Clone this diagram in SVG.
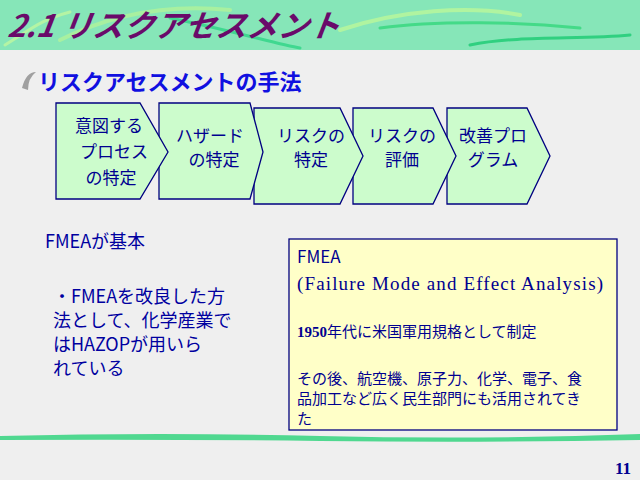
<svg xmlns="http://www.w3.org/2000/svg" width="640" height="480" viewBox="0 0 640 480">
<style>
.j{font-family:"Noto Sans CJK JP","Liberation Sans",sans-serif}
.s{fill:#ccfccc;stroke:#000080;stroke-width:1.3}
.t{font-size:17px;fill:#000090;text-anchor:middle}
.b{font-size:18px;fill:#0000a0}
.y{font-size:15px;fill:#000090}
</style>
<rect width="640" height="480" fill="#efefef"/>
<rect width="640" height="50" fill="#86e6b8"/>
<g fill="none" stroke-linecap="round">
<path d="M60,40 C120,10 180,5 230,10" stroke="#a8f0a0" stroke-width="4"/>
<path d="M170,18 C230,30 280,45 300,48" stroke="#40d890" stroke-width="3"/>
<path d="M340,30 C400,10 470,5 520,15" stroke="#b0f4a0" stroke-width="4"/>
<path d="M380,28 C440,20 520,22 580,28" stroke="#44da88" stroke-width="3"/>
<path d="M470,45 C520,35 580,40 630,35" stroke="#30d080" stroke-width="3"/>
<path d="M5,45 C30,30 40,20 70,12" stroke="#b4f4a4" stroke-width="3"/>
</g>
<path d="M0,436 Q160,432 320,436 T640,434 L640,440 Q480,443 320,441 T0,440 Z" fill="#50d890"/>
<text x="8" y="37" class="j" font-size="31" font-weight="bold" font-style="italic" fill="#6a0a6a" transform="skewX(-8) translate(4,0)">2.1  リスクアセスメント</text>
<path d="M22,88 Q26,72 36,72 Q28,78 28,90 Z" fill="#a0a0a0"/>
<text x="38" y="90" class="j" font-size="22" font-weight="bold" fill="#1010e0">リスクアセスメントの手法</text>
<g id="n5"><path class="s" d="M447,108 H527 L550,156 L527,204 H447 Z"/><text class="j t" x="493" y="142">改善プロ</text><text class="j t" x="493" y="166">グラム</text></g>
<g id="n4"><path class="s" d="M353,108 H433 L456,156 L433,204 H353 Z"/><text class="j t" x="402" y="142">リスクの</text><text class="j t" x="402" y="166">評価</text></g>
<g id="n3"><path class="s" d="M254,108 H340 L363,156 L340,204 H254 Z"/><text class="j t" x="311" y="142">リスクの</text><text class="j t" x="311" y="166">特定</text></g>
<g id="n2"><path class="s" d="M159,103 H250 L263,152 L250,199 H159 Z"/><text class="j t" x="210" y="142">ハザード</text><text class="j t" x="214" y="166">の特定</text></g>
<g id="n1"><path class="s" d="M56,103 H140 L168,152 L140,199 H56 Z"/><text class="j t" x="109" y="132">意図する</text><text class="j t" x="114" y="158">プロセス</text><text class="j t" x="111" y="184">の特定</text></g>
<g id="connectors"/>
<text x="45" y="248" class="j b">FMEAが基本</text>
<text x="53" y="303" class="j b">・FMEAを改良した方</text>
<text x="53" y="327" class="j b">法として、化学産業で</text>
<text x="53" y="351" class="j b">はHAZOPが用いら</text>
<text x="53" y="375" class="j b">れている</text>
<g id="fmea">
<rect x="289" y="239" width="328" height="191" fill="#ffffc8" stroke="#000080" stroke-width="1.3"/>
<text x="297" y="263" class="j" font-size="17" fill="#000090">FMEA</text>
<text x="297" y="290" font-family="Liberation Serif,serif" font-size="19" fill="#000090" textLength="306" lengthAdjust="spacing">(Failure Mode and Effect Analysis)</text>
<text x="297" y="337" class="j y"><tspan font-family="Liberation Serif,serif" font-weight="bold">1950</tspan>年代に米国軍用規格として制定</text>
<text x="297" y="384" class="j y">その後、航空機、原子力、化学、電子、食</text>
<text x="297" y="404" class="j y">品加工など広く民生部門にも活用されてき</text>
<text x="297" y="424" class="j y">た</text>
</g>
<text x="631" y="474" text-anchor="end" font-family="Liberation Serif,serif" font-weight="bold" font-size="17" fill="#000090">11</text>
</svg>
